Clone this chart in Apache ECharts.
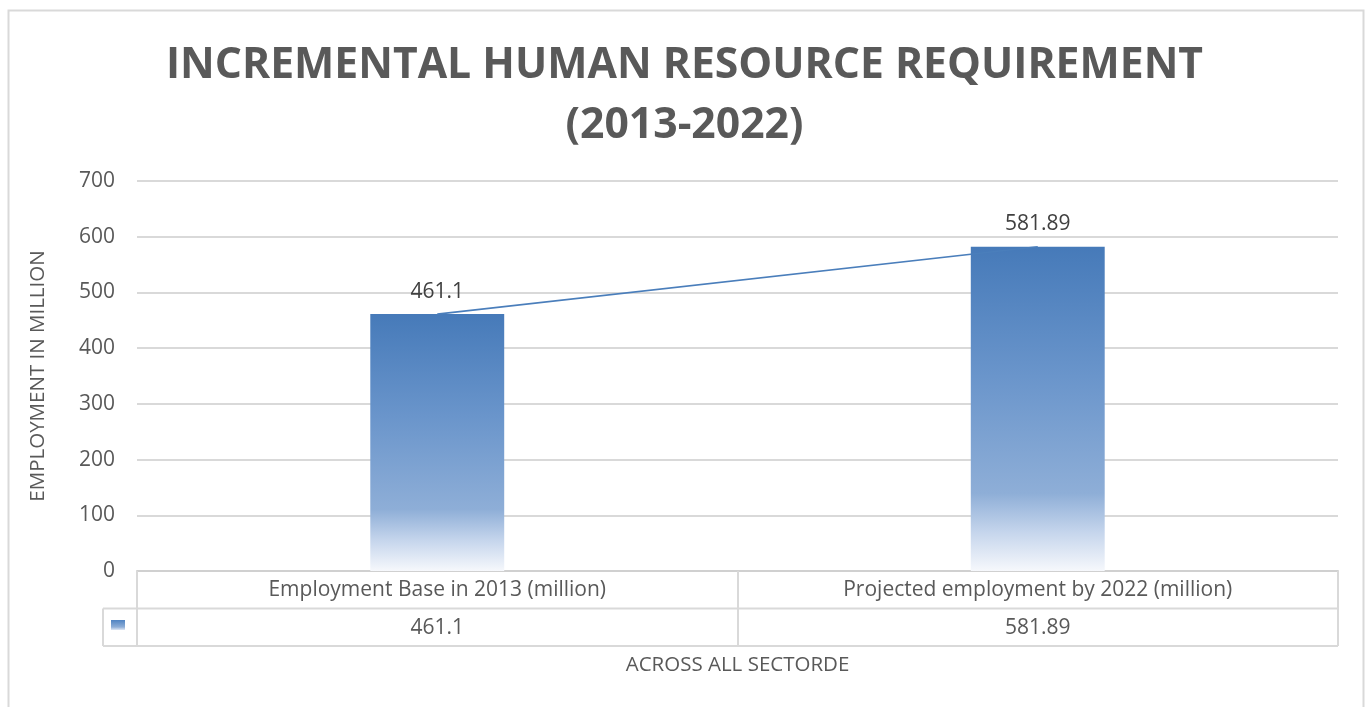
<!DOCTYPE html>
<html>
<head>
<meta charset="utf-8">
<script src="https://cdn.jsdelivr.net/npm/echarts@6/dist/echarts.min.js"></script>
<style>
  html, body { margin: 0; padding: 0; background: #ffffff; }
  #chart { width: 1369px; height: 707px; }
</style>
</head>
<body>
<div id="chart"></div>
<script>
// Employment figures (million)
const categories = ['Employment Base in 2013 (million)', 'Projected employment by 2022 (million)'];
const employment = [461.1, 581.89];
const yTicks = { min: 0, max: 700, interval: 100 };

const titleText = 'INCREMENTAL HUMAN RESOURCE REQUIREMENT\n(2013-2022)';
const yAxisTitle = 'EMPLOYMENT IN MILLION';
const xAxisTitle = 'ACROSS ALL SECTORDE';

const FONT = '"Open Sans", "Noto Sans", sans-serif';
const TEXT = '#595959';
const GRIDLINE = '#d9d9d9';

const barFill = new echarts.graphic.LinearGradient(0, 0, 0, 1, [
  { offset: 0, color: '#467ab9' },
  { offset: 0.4, color: '#6a95cb' },
  { offset: 0.76, color: '#8eaed7' },
  { offset: 0.88, color: '#c5d5ec' },
  { offset: 1, color: '#f6f8fc' }
]);
const keyFill = new echarts.graphic.LinearGradient(0, 0, 0, 1, [
  { offset: 0, color: '#4f83c2' },
  { offset: 0.7, color: '#8eaed7' },
  { offset: 1, color: '#dfe7f4' }
]);

const chart = echarts.init(document.getElementById('chart'));

const grid = { left: 137, right: 31, top: 181, bottom: 136 };
const plotBottom = 707 - grid.bottom;   // y of the category axis
const rowH = 37.5;

chart.setOption({
  backgroundColor: '#ffffff',
  animation: false,
  title: {
    text: titleText,
    left: 'center',
    top: 31,
    textStyle: {
      fontFamily: FONT,
      fontSize: 42.7,
      fontWeight: 'bold',
      color: TEXT,
      lineHeight: 60
    }
  },
  grid: grid,
  xAxis: [
    {
      type: 'category',
      data: categories,
      axisLine: { show: true, lineStyle: { color: '#d0d0d0', width: 2 } },
      axisTick: { show: true, interval: 0, length: rowH * 2, lineStyle: { color: GRIDLINE, width: 2 } },
      axisLabel: { interval: 0, margin: 9, fontFamily: FONT, fontSize: 21, color: TEXT }
    },
    {
      type: 'category',
      data: categories,
      position: 'bottom',
      axisLine: { show: false },
      axisTick: { show: false },
      axisLabel: {
        interval: 0,
        margin: 47,
        fontFamily: FONT,
        fontSize: 21,
        color: TEXT,
        formatter: (v, i) => String(employment[i])
      },
      name: xAxisTitle,
      nameLocation: 'middle',
      nameGap: 84,
      nameTextStyle: { fontFamily: FONT, fontSize: 20.5, color: TEXT }
    }
  ],
  yAxis: {
    type: 'value',
    min: yTicks.min,
    max: yTicks.max,
    interval: yTicks.interval,
    axisLine: { show: false },
    axisTick: { show: false },
    axisLabel: { margin: 22, fontFamily: FONT, fontSize: 21, color: TEXT },
    splitLine: { lineStyle: { color: GRIDLINE, width: 2 } },
    name: yAxisTitle,
    nameLocation: 'middle',
    nameGap: 88,
    nameTextStyle: { fontFamily: FONT, fontSize: 20.5, color: TEXT }
  },
  series: [
    {
      type: 'bar',
      data: employment,
      barWidth: '22.3%',
      itemStyle: { color: barFill },
      label: {
        show: true,
        position: 'top',
        distance: 12,
        fontFamily: FONT,
        fontSize: 21,
        color: '#404040'
      },
      z: 2
    },
    {
      type: 'line',
      data: employment,
      symbol: 'none',
      lineStyle: { color: '#4a7ebb', width: 1.6 },
      z: 3
    }
  ],
  graphic: [
    // outer frame
    { type: 'rect', shape: { x: 8.5, y: 10.5, width: 1355, height: 720 },
      style: { fill: 'none', stroke: GRIDLINE, lineWidth: 2 }, silent: true },
    // data table rules
    { type: 'line', shape: { x1: 103, y1: plotBottom + rowH, x2: 1338, y2: plotBottom + rowH },
      style: { stroke: GRIDLINE, lineWidth: 2 } },
    { type: 'line', shape: { x1: 103, y1: plotBottom + rowH * 2, x2: 1338, y2: plotBottom + rowH * 2 },
      style: { stroke: GRIDLINE, lineWidth: 2 } },
    { type: 'line', shape: { x1: 103, y1: plotBottom + rowH, x2: 103, y2: plotBottom + rowH * 2 },
      style: { stroke: GRIDLINE, lineWidth: 2 } },
    // legend key in the table
    { type: 'rect', shape: { x: 111, y: 620, width: 14, height: 10 },
      style: { fill: keyFill } }
  ]
});
</script>
</body>
</html>
